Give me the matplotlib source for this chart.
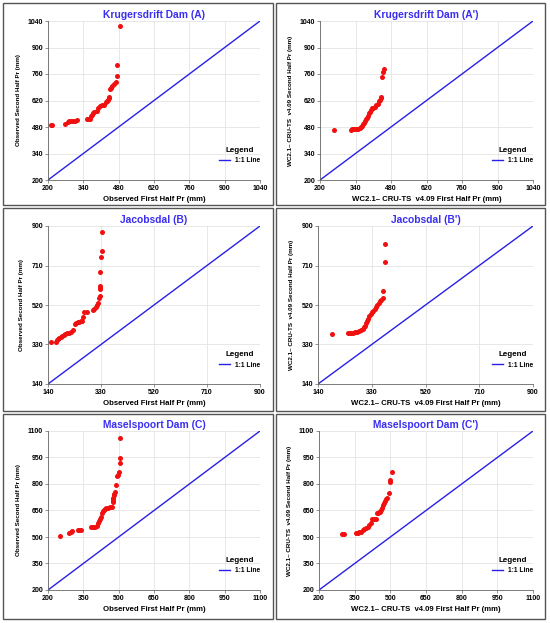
import matplotlib
matplotlib.use("Agg")
import matplotlib.pyplot as plt
from matplotlib.patches import Rectangle

plt.rcParams['font.family'] = ['Liberation Sans', 'DejaVu Sans']
plt.rcParams['font.weight'] = 'bold'

# --- data (sorted first half vs second half, mm) ---
krug_obs_x = [210, 215, 268, 278, 285, 292, 300, 308, 316, 355, 360, 366, 372, 376, 380, 383,
              395, 400, 405, 412, 420, 428, 432, 436, 440, 443, 446, 450, 455, 462, 468, 472, 474, 484]
krug_obs_y = [490, 493, 496, 508, 510, 512, 513, 514, 515, 520, 521, 524, 538, 545, 552, 557,
              565, 578, 590, 595, 597, 610, 618, 625, 632, 640, 680, 688, 695, 705, 718, 750, 810, 1012]

krug_wc_x = [256, 322, 328, 334, 342, 350, 356, 360, 366, 370, 374, 378, 382, 385, 390, 393,
             396, 400, 404, 410, 416, 422, 428, 432, 436, 440, 442, 444, 449, 452]
krug_wc_y = [465, 466, 467, 468, 469, 472, 476, 480, 486, 494, 502, 510, 520, 526, 540, 552,
             560, 572, 578, 580, 584, 596, 601, 618, 624, 632, 640, 746, 768, 785]

jac_obs_x = [150, 168, 172, 176, 180, 185, 190, 196, 202, 208, 215, 222, 230, 236, 240, 246,
             252, 258, 262, 266, 270, 280, 300, 306, 312, 316, 320, 323, 325, 326, 327, 327,
             328, 330, 332, 335]
jac_obs_y = [344, 342, 350, 355, 362, 368, 372, 376, 380, 383, 386, 390, 398, 430, 433, 436,
             440, 442, 445, 460, 485, 488, 495, 502, 510, 520, 532, 552, 565, 598, 604, 612,
             680, 750, 780, 873]

jac_wc_x = [188, 246, 252, 258, 264, 270, 278, 286, 292, 298, 302, 306, 310, 314, 318, 322,
            326, 330, 336, 342, 346, 350, 356, 360, 364, 368, 370, 376, 378]
jac_wc_y = [382, 384, 385, 386, 387, 388, 392, 396, 400, 404, 412, 420, 432, 445, 455, 468,
            475, 484, 492, 500, 510, 520, 528, 538, 545, 556, 586, 728, 813]

mas_obs_x = [252, 290, 296, 300, 326, 332, 338, 382, 390, 400, 410, 413, 416, 420, 424, 428,
             432, 436, 442, 448, 456, 462, 470, 474, 476, 478, 480, 482, 486, 490, 493, 496,
             500, 504, 505, 506]
mas_obs_y = [506, 520, 528, 532, 540, 541, 542, 554, 556, 558, 565, 578, 590, 600, 615, 635,
             645, 655, 660, 662, 665, 668, 670, 700, 712, 722, 735, 745, 752, 797, 848, 852,
             870, 918, 948, 1063]

mas_wc_x = [296, 304, 356, 362, 368, 376, 384, 390, 396, 404, 412, 418, 424, 432, 440, 442,
            448, 452, 456, 460, 464, 468, 472, 478, 482, 486, 494, 498, 500, 506]
mas_wc_y = [516, 518, 522, 524, 526, 528, 540, 548, 552, 558, 566, 578, 600, 602, 604, 636,
            638, 640, 644, 652, 666, 680, 690, 705, 716, 722, 748, 810, 822, 868]

krug_ticks = [200, 340, 480, 620, 760, 900, 1040]
jac_ticks = [140, 330, 520, 710, 900]
mas_ticks = [200, 350, 500, 650, 800, 950, 1100]

obs_xlabel = "Observed First Half Pr (mm)"
obs_ylabel = "Observed Second Half Pr (mm)"
wc_xlabel = "WC2.1\u2013 CRU-TS  v4.09 First Half Pr (mm)"
wc_ylabel = "WC2.1\u2013 CRU-TS  v4.09 Second Half Pr (mm)"

panels = [
    ("Krugersdrift Dam (A)", krug_obs_x, krug_obs_y, krug_ticks, obs_xlabel, obs_ylabel),
    ("Krugersdrift Dam (A')", krug_wc_x, krug_wc_y, krug_ticks, wc_xlabel, wc_ylabel),
    ("Jacobsdal (B)", jac_obs_x, jac_obs_y, jac_ticks, obs_xlabel, obs_ylabel),
    ("Jacobsdal (B')", jac_wc_x, jac_wc_y, jac_ticks, wc_xlabel, wc_ylabel),
    ("Maselspoort Dam (C)", mas_obs_x, mas_obs_y, mas_ticks, obs_xlabel, obs_ylabel),
    ("Maselspoort Dam (C')", mas_wc_x, mas_wc_y, mas_ticks, wc_xlabel, wc_ylabel),
]

W, H = 550, 623
fig = plt.figure(figsize=(W / 100, H / 100), dpi=100)

# pixel boxes: (left, top, right, bottom) for axes and cell frames
axes_px = [(48, 21, 260, 180), (320, 21, 533, 180),
           (48, 226, 260, 384), (318, 226, 533, 384),
           (48, 431, 260, 590), (319, 431, 533, 590)]
cells_px = [(3, 3, 273, 205), (276, 3, 545, 205),
            (3, 208, 273, 411), (276, 208, 545, 411),
            (3, 414, 273, 619), (276, 414, 545, 619)]

for (l, t, r, b) in cells_px:
    fig.patches.append(Rectangle((l / W, 1 - b / H), (r - l) / W, (b - t) / H,
                                 transform=fig.transFigure, fill=False,
                                 edgecolor='#555555', linewidth=1.0))

for (title, xs, ys, ticks, xl, yl), (l, t, r, b) in zip(panels, axes_px):
    ax = fig.add_axes([l / W, 1 - b / H, (r - l) / W, (b - t) / H])
    lo, hi = ticks[0], ticks[-1]
    ax.plot([lo, hi], [lo, hi], color='#2a1fe6', lw=1.0, label='1:1 Line', zorder=2)
    ax.scatter(xs, ys, s=13, color='#f01010', zorder=3, linewidths=0)
    ax.set_xlim(lo, hi)
    ax.set_ylim(lo, hi)
    ax.set_xticks(ticks)
    ax.set_yticks(ticks)
    ax.grid(True, color='#e4e4e4', lw=0.6)
    ax.set_axisbelow(True)
    for s in ['top', 'right']:
        ax.spines[s].set_visible(False)
    for s in ['left', 'bottom']:
        ax.spines[s].set_color('#666666')
        ax.spines[s].set_linewidth(0.6)
    ax.tick_params(labelsize=5, length=2, width=0.5, color='#666666', pad=1.5)
    ax.set_title(title, color='#3a2ef0', fontsize=7.4, fontweight='bold', pad=2)
    ax.set_xlabel(xl, fontsize=5.6, fontweight='bold', labelpad=3)
    ax.set_ylabel(yl, fontsize=4.5, fontweight='bold', labelpad=5)
    leg = ax.legend(loc='lower right', bbox_to_anchor=(1.03, 0.06), frameon=False,
                    title='Legend', fontsize=4.8, title_fontsize=5.8,
                    handlelength=1.6, handletextpad=0.8)
    leg.get_title().set_fontweight('bold')

fig.savefig("out.png", dpi=100)
